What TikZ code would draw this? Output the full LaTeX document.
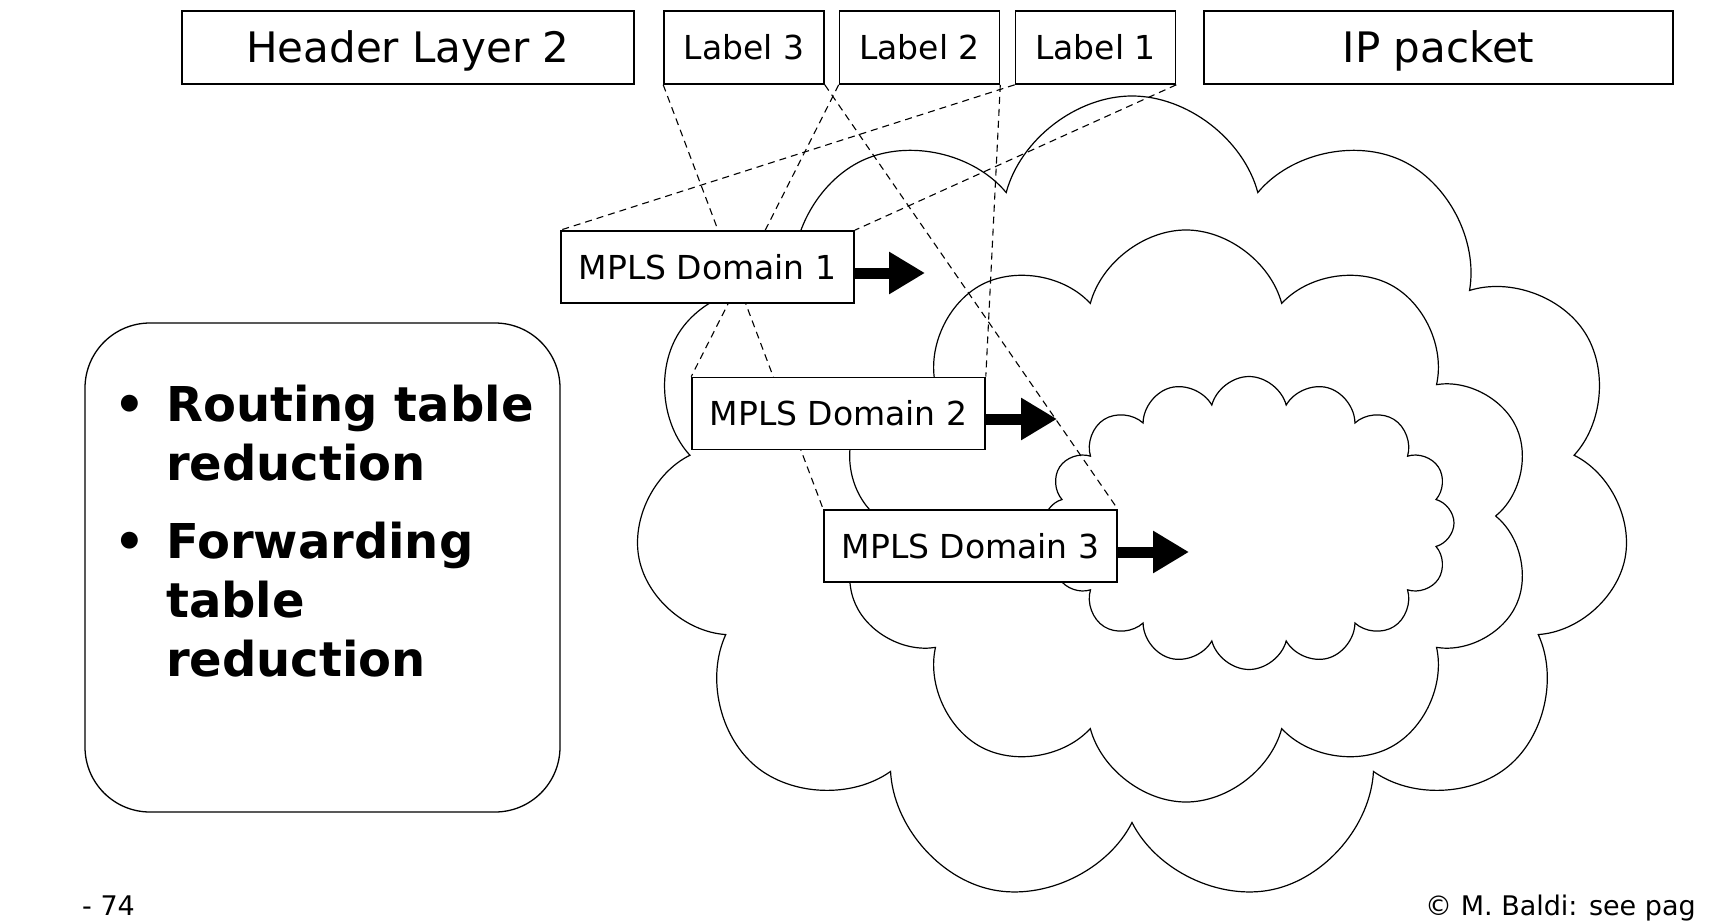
\documentclass[tikz,border=0pt]{standalone}
\usepackage{fontspec}
\setmainfont{DejaVu Sans}
\usepackage{tikz}
\usetikzlibrary{positioning, calc, arrows.meta, shapes.symbols, backgrounds}

\begin{document}
\begin{tikzpicture}[x=1pt, y=-1pt,
        hdrbox/.style={draw, line width=1.6pt, fill=white, inner sep=0pt, minimum height=73pt, text height=31pt, text depth=0pt, font=\fontsize{42}{50}\selectfont},
        lblbox/.style={draw, line width=1.6pt, fill=white, inner sep=0pt, minimum width=160pt, minimum height=73pt, font=\fontsize{33}{40}\selectfont},
        dombox/.style={lblbox, minimum width=293pt, minimum height=72pt},
        domcloud/.style={draw, cloud, cloud ignores aspect, line width=1.2pt},
        lbllink/.style={line width=1.1pt, dash pattern=on 7pt off 5pt},
        fwd/.style={line width=11pt, -{Triangle[length=36pt, width=40pt]}},
        note/.style={anchor=base west, inner sep=0pt, font=\fontsize{27}{32}\selectfont}]
        \useasboundingbox (0, 0) rectangle (1715, 923);
        % packet
        \node[hdrbox, minimum width=452pt] (hdr) at (408, 47.5) {Header Layer 2};
        \node[lblbox] (lbl3) at (744, 47.5) {Label 3};
        \node[lblbox] (lbl2) at (919.5, 47.5) {Label 2};
        \node[lblbox] (lbl1) at (1095.5, 47.5) {Label 1};
        \node[hdrbox, minimum width=469pt] (ip) at (1438.5, 47.5) {IP packet};
        % domains
        \node[dombox] (d1) at (707.5, 267) {MPLS Domain 1};
        \node[dombox] (d2) at (838.5, 413.5) {MPLS Domain 2};
        \node[dombox] (d3) at (970.5, 546) {MPLS Domain 3};
        \coordinate (d1-out) at (925, 273);
        \coordinate (d2-out) at (1057, 419);
        \coordinate (d3-out) at (1189, 552);
        % clouds and label links
        \begin{scope}[on background layer]
        \node[domcloud, cloud puffs=11, minimum width=996pt, minimum height=810pt] (cloud1) at (1132, 501) {};
        \node[domcloud, cloud puffs=10, minimum width=695pt, minimum height=572pt] (cloud2) at (1186, 516) {};
        \node[domcloud, cloud puffs=16, minimum width=410pt, minimum height=293pt] (cloud3) at (1249, 523) {};
        \draw[lbllink] (lbl1.south west) -- (d1.north west);
        \draw[lbllink] (lbl1.south east) -- (d1.north east);
        \draw[lbllink] (lbl2.south west) -- (d2.north west);
        \draw[lbllink] (lbl2.south east) -- (d2.north east);
        \draw[lbllink] (lbl3.south west) -- (d3.north west);
        \draw[lbllink] (lbl3.south east) -- (d3.north east);
        \end{scope}
        % arrows
        \draw[fwd] (d1.east |- d1-out) -- (d1-out);
        \draw[fwd] (d2.east |- d2-out) -- (d2-out);
        \draw[fwd] (d3.east |- d3-out) -- (d3-out);
        % advantages
        \node[draw, line width=1.3pt, rounded corners=65pt, minimum width=475pt, minimum height=489pt] (pointbox) at (322.5, 567.5) {};
        \node[anchor=base west, inner sep=0pt, font=\bfseries\fontsize{48}{59}\selectfont] (points) at (114, 421) {%
          \begin{tabular}[t]{@{}p{52pt}@{}l@{}}
          \textbullet & Routing table\\
                      & reduction\\[19pt]
          \textbullet & Forwarding\\
                      & table\\
                      & reduction
          \end{tabular}};
        % footer
        \node[note] (pageno) at (82, 915) {- 74};
        \node[note] (credit) at (1425, 915) {© M. Baldi: see pag};
\end{tikzpicture}
\end{document}
